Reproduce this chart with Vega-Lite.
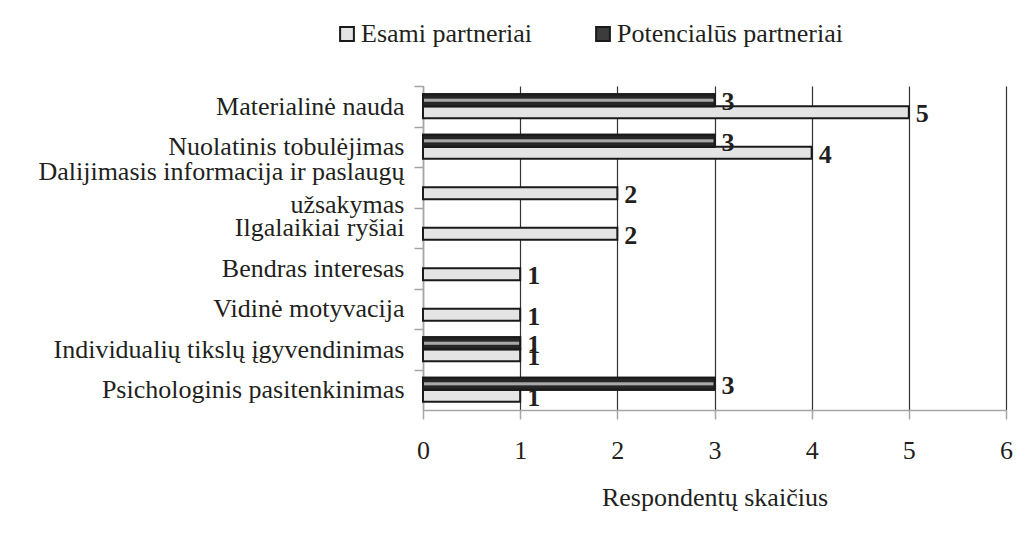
{
  "$schema": "https://vega.github.io/schema/vega-lite/v6.json",
  "width": 583,
  "height": 324,
  "autosize": {"type": "none"},
  "padding": {"left": 423, "top": 86, "right": 22, "bottom": 125},
  "background": "white",
  "config": {
    "view": {"stroke": null},
    "font": "Liberation Serif",
    "text": {"font": "Liberation Serif"}
  },
  "data": {
    "values": [
      {"category": "Materialinė nauda", "series": "Esami partneriai", "value": 5},
      {"category": "Materialinė nauda", "series": "Potencialūs partneriai", "value": 3},
      {"category": "Nuolatinis tobulėjimas", "series": "Esami partneriai", "value": 4},
      {"category": "Nuolatinis tobulėjimas", "series": "Potencialūs partneriai", "value": 3},
      {"category": "Dalijimasis informacija ir paslaugų|užsakymas", "series": "Esami partneriai", "value": 2},
      {"category": "Ilgalaikiai ryšiai", "series": "Esami partneriai", "value": 2},
      {"category": "Bendras interesas", "series": "Esami partneriai", "value": 1},
      {"category": "Vidinė motyvacija", "series": "Esami partneriai", "value": 1},
      {"category": "Individualių tikslų įgyvendinimas", "series": "Esami partneriai", "value": 1},
      {"category": "Individualių tikslų įgyvendinimas", "series": "Potencialūs partneriai", "value": 1},
      {"category": "Psichologinis pasitenkinimas", "series": "Esami partneriai", "value": 1},
      {"category": "Psichologinis pasitenkinimas", "series": "Potencialūs partneriai", "value": 3}
    ]
  },
  "encoding": {
    "y": {
      "field": "category",
      "type": "nominal",
      "sort": null,
      "scale": {"paddingInner": 0.41, "paddingOuter": 0.205},
      "axis": {
        "title": null,
        "labelExpr": "split(datum.label, '|')",
        "labelFont": "Liberation Serif",
        "labelFontSize": 26,
        "labelColor": "#231f20",
        "labelLineHeight": 33,
        "labelPadding": 10,
        "labelLimit": 500,
        "labelOffset": {"condition": {"test": "indexof(datum.value, '|') >= 0", "value": 4}, "value": 20.25},
        "domainColor": "#a6a6a6",
        "domainWidth": 1.5,
        "tickColor": "#a6a6a6",
        "tickWidth": 1.5,
        "tickSize": 9,
        "tickOffset": -20.25,
        "grid": false
      }
    },
    "x": {
      "field": "value",
      "type": "quantitative",
      "scale": {"domain": [0, 6], "nice": false},
      "axis": {
        "title": "Respondentų skaičius",
        "titleFont": "Liberation Serif",
        "titleFontSize": 26,
        "titleFontWeight": "normal",
        "titleColor": "#231f20",
        "titlePadding": 21,
        "values": [0, 1, 2, 3, 4, 5, 6],
        "format": "d",
        "labelFont": "Liberation Serif",
        "labelFontSize": 26,
        "labelColor": "#231f20",
        "labelPadding": 18,
        "labelFlush": false,
        "domainColor": "#a6a6a6",
        "domainWidth": 1.5,
        "tickColor": "#a6a6a6",
        "tickWidth": 1.5,
        "tickSize": 9,
        "grid": true,
        "gridColor": "#333333",
        "gridWidth": 1.2
      }
    },
    "yOffset": {
      "field": "series",
      "type": "nominal",
      "scale": {"domain": ["Potencialūs partneriai", "Esami partneriai"], "paddingInner": 0, "paddingOuter": 0}
    }
  },
  "layer": [
    {
      "mark": {"type": "bar", "stroke": "#1a1a1a", "strokeWidth": 2},
      "encoding": {
        "color": {
          "field": "series",
          "type": "nominal",
          "scale": {
            "domain": ["Esami partneriai", "Potencialūs partneriai"],
            "range": ["#e4e4e4", "#3c3c3c"]
          },
          "legend": {
            "title": null,
            "orient": "none",
            "direction": "horizontal",
            "legendX": -89,
            "legendY": -65,
            "symbolType": "square",
            "symbolSize": 190,
            "symbolStrokeColor": "#1a1a1a",
            "symbolStrokeWidth": 2,
            "labelFont": "Liberation Serif",
            "labelFontSize": 26,
            "labelColor": "#231f20",
            "labelOffset": 1,
            "columnPadding": 57,
            "labelLimit": 400
          }
        }
      }
    },
    {
      "transform": [{"filter": "datum.series == 'Potencialūs partneriai'"}],
      "mark": {
        "type": "bar",
        "stroke": "#1a1a1a",
        "strokeWidth": 2,
        "fill": {"gradient": "linear", "x1": 0, "y1": 0, "x2": 0, "y2": 1, "stops": [
          {"offset": 0, "color": "#262626"},
          {"offset": 0.32, "color": "#262626"},
          {"offset": 0.42, "color": "#a8a8a8"},
          {"offset": 0.58, "color": "#a8a8a8"},
          {"offset": 0.68, "color": "#262626"},
          {"offset": 1, "color": "#262626"}
        ]}
      },
      "encoding": {}
    },
    {
      "mark": {"type": "text", "align": "left", "baseline": "middle", "dx": 7, "dy": 2, "fontSize": 26, "fontWeight": "bold", "color": "#231f20"},
      "encoding": {
        "text": {"field": "value", "type": "quantitative"}
      }
    }
  ]
}
